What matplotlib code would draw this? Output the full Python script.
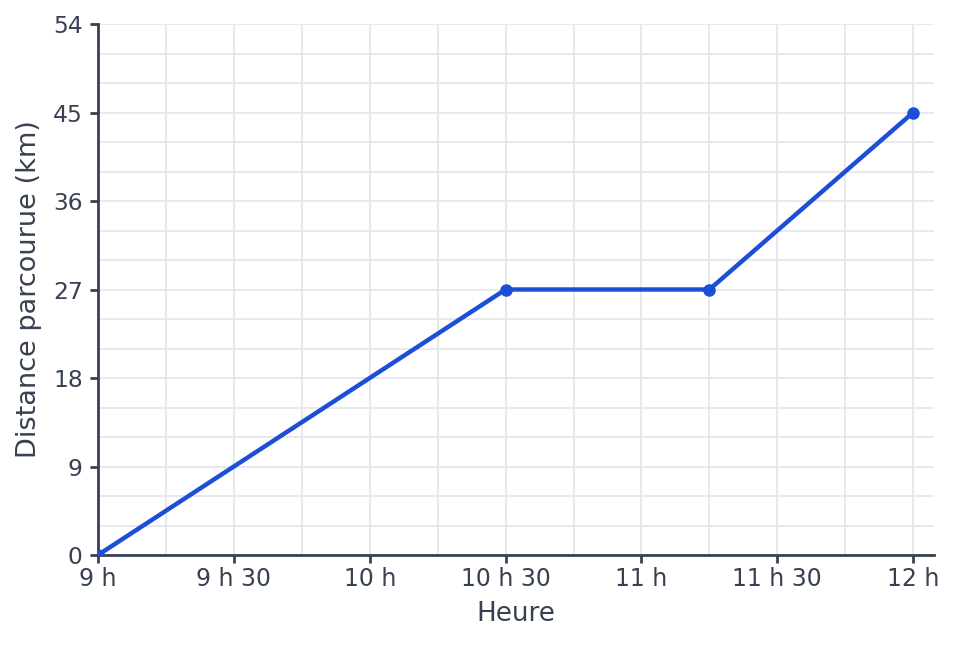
import matplotlib
matplotlib.use("Agg")
import matplotlib.pyplot as plt
from matplotlib.ticker import MultipleLocator

minutes = [0, 90, 135, 180]
distance_km = [0, 27, 27, 45]
x_tick_pos = [0, 30, 60, 90, 120, 150, 180]
x_tick_labels = ["9 h", "9 h 30", "10 h", "10 h 30", "11 h", "11 h 30", "12 h"]
y_ticks = [0, 9, 18, 27, 36, 45, 54]

line_color = "#1d4ed8"
axis_color = "#374151"
grid_color = "#e5e7eb"

fig = plt.figure(figsize=(9.55, 6.45), dpi=100)
ax = fig.add_axes([98/955, (645-555)/645, (934-98)/955, (555-24)/645])

ax.plot(minutes, distance_km, color=line_color, lw=3.2, marker="o", ms=8, zorder=3)

ax.set_xlim(0, 184.6)
ax.set_ylim(0, 54)
ax.set_xticks(x_tick_pos)
ax.set_xticklabels(x_tick_labels)
ax.set_yticks(y_ticks)
ax.xaxis.set_minor_locator(MultipleLocator(15))
ax.yaxis.set_minor_locator(MultipleLocator(3))
ax.grid(which="both", color=grid_color, lw=1.3, zorder=0)
ax.set_axisbelow(True)

for s in ["top", "right"]:
    ax.spines[s].set_visible(False)
for s in ["left", "bottom"]:
    ax.spines[s].set_color(axis_color)
    ax.spines[s].set_linewidth(2)

ax.tick_params(which="major", length=6, width=2, color=axis_color, labelcolor=axis_color)
ax.tick_params(axis="x", labelsize=17, pad=3)
ax.tick_params(axis="y", labelsize=16.8, pad=5)
ax.tick_params(which="minor", length=0)

ax.set_xlabel("Heure", color=axis_color, fontsize=18.8, labelpad=7)
ax.set_ylabel("Distance parcourue (km)", color=axis_color, fontsize=19.5, labelpad=8)

fig.savefig("out.png", dpi=100)
